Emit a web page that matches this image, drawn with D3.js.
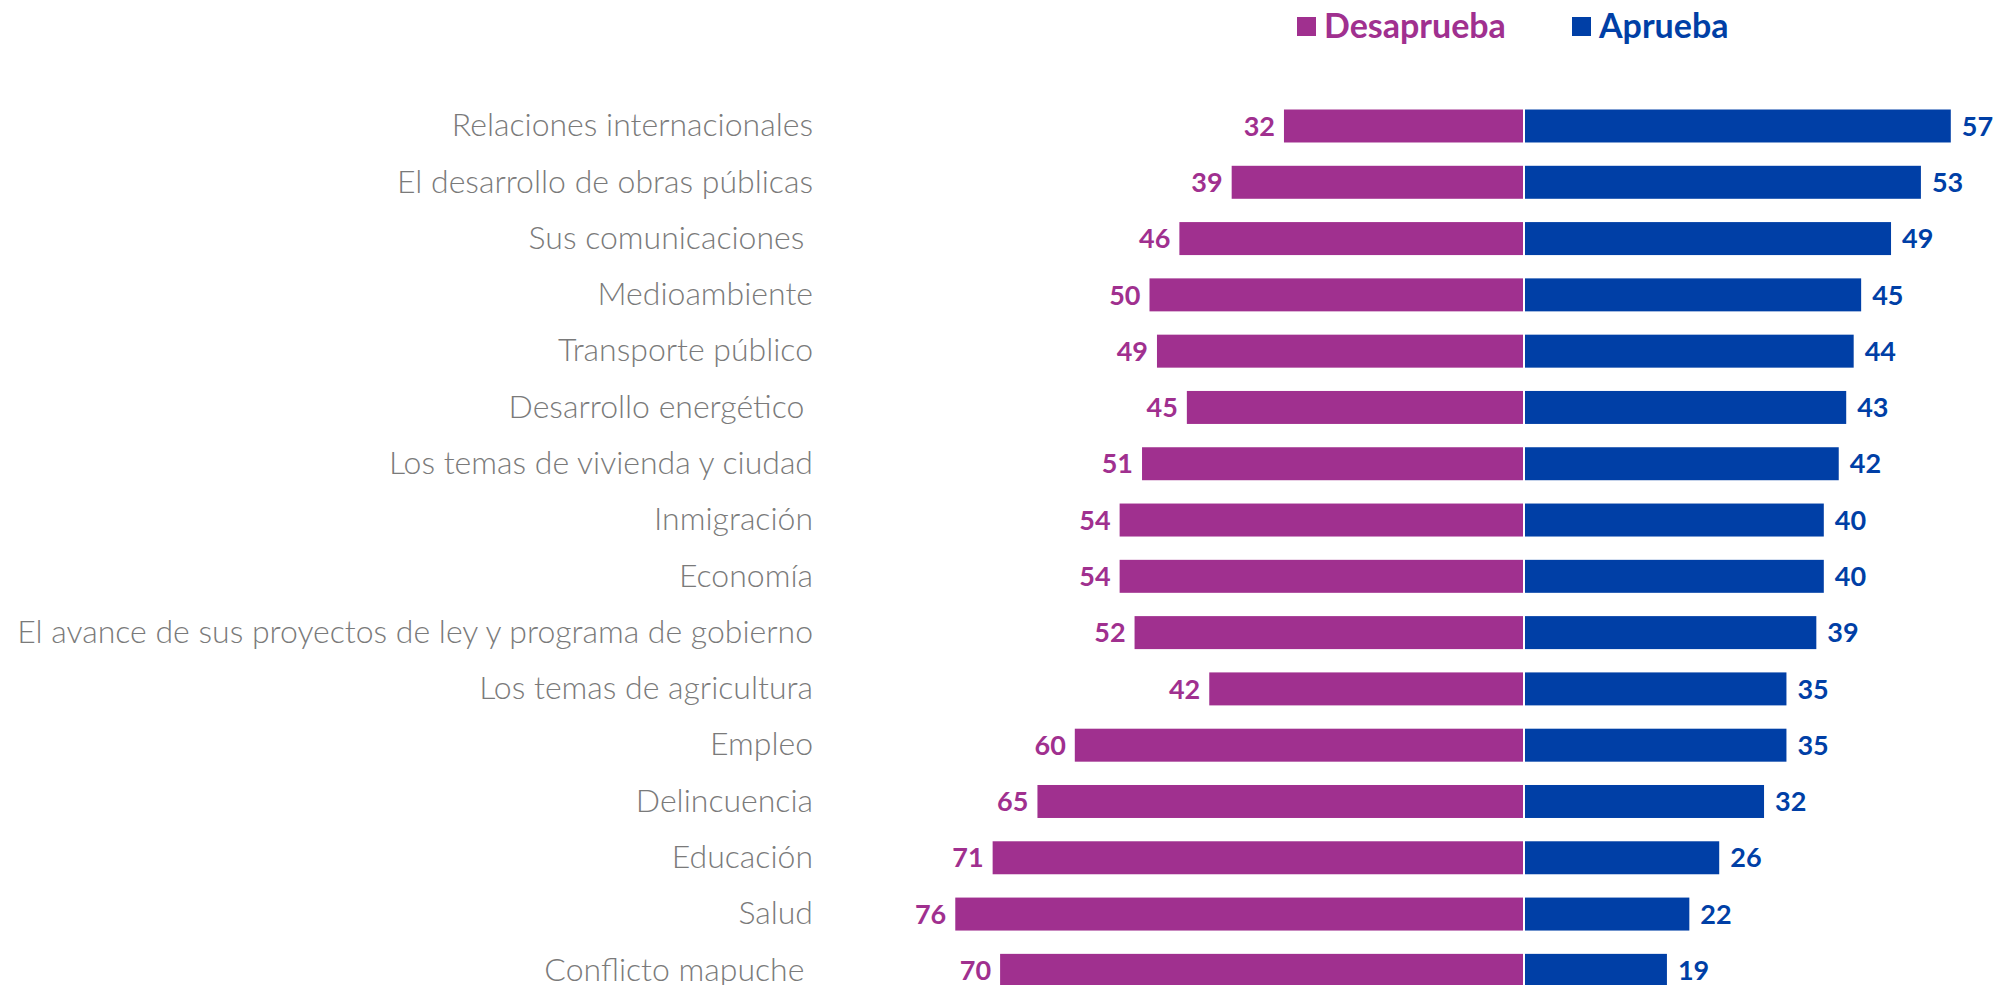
<!DOCTYPE html>
<html>
<head>
<meta charset="utf-8">
<script src="https://cdn.jsdelivr.net/npm/d3@7"></script>
<style>
  body { margin: 0; background: #fff; }
  svg { display: block; }
</style>
</head>
<body>
<svg id="chart"></svg>
<script>
const categories = [
  "Relaciones internacionales",
  "El desarrollo de obras públicas",
  "Sus comunicaciones ",
  "Medioambiente",
  "Transporte público",
  "Desarrollo energético ",
  "Los temas de vivienda y ciudad",
  "Inmigración",
  "Economía",
  "El avance de sus proyectos de ley y programa de gobierno",
  "Los temas de agricultura",
  "Empleo",
  "Delincuencia",
  "Educación",
  "Salud",
  "Conflicto mapuche "
];
const desaprueba = [32, 39, 46, 50, 49, 45, 51, 54, 54, 52, 42, 60, 65, 71, 76, 70];
const aprueba = [57, 53, 49, 45, 44, 43, 42, 40, 40, 39, 35, 35, 32, 26, 22, 19];
const seriesNames = ["Desaprueba", "Aprueba"];

const colors = { Desaprueba: "#a0308f", Aprueba: "#003fa6" };

const W = 1998, H = 985;
const svg = d3.select("#chart").attr("width", W).attr("height", H);

const center = 1524; // bars meet here
const x = d3.scaleLinear().domain([0, 80]).range([0, 597.6]);

const y = d3.scaleBand()
  .domain(categories)
  .range([97.85, 998.5])
  .paddingInner(0.414)
  .paddingOuter(0.207);

const rows = categories.map((c, i) => ({ cat: c, d: desaprueba[i], a: aprueba[i] }));

// category labels
const labels = svg.append("g")
  .selectAll("text")
  .data(rows)
  .enter()
  .append("text")
  .attr("x", 813)
  .attr("y", d => y(d.cat) + y.bandwidth() / 2)
  .attr("dy", "0.32em")
  .attr("text-anchor", "end")
  .style("font-family", "Lato, sans-serif")
  .style("font-weight", 300)
  .style("font-size", "30px")
  .style("fill", "#7a7a7a")
  .style("white-space", "pre")
  .text(d => d.cat);

// fit font so the longest label spans its width in the reference
let longest = 0;
labels.each(function () { longest = Math.max(longest, this.getComputedTextLength()); });
labels.style("font-size", (30 * 796 / longest) + "px");

const g = svg.append("g");

g.selectAll(".bar-d")
  .data(rows)
  .enter()
  .append("rect")
  .attr("class", "bar-d")
  .attr("x", d => center - 1 - x(d.d))
  .attr("y", d => y(d.cat))
  .attr("width", d => x(d.d))
  .attr("height", y.bandwidth())
  .style("fill", colors.Desaprueba);

g.selectAll(".bar-a")
  .data(rows)
  .enter()
  .append("rect")
  .attr("class", "bar-a")
  .attr("x", center + 1)
  .attr("y", d => y(d.cat))
  .attr("width", d => x(d.a))
  .attr("height", y.bandwidth())
  .style("fill", colors.Aprueba);

g.selectAll(".lab-d")
  .data(rows)
  .enter()
  .append("text")
  .attr("class", "lab-d")
  .attr("x", d => center - 1 - x(d.d) - 9)
  .attr("y", d => y(d.cat) + y.bandwidth() / 2)
  .attr("dy", "0.36em")
  .attr("text-anchor", "end")
  .style("font-family", "Lato, sans-serif")
  .style("font-weight", "bold")
  .style("font-size", "27px")
  .style("fill", colors.Desaprueba)
  .text(d => d.d);

g.selectAll(".lab-a")
  .data(rows)
  .enter()
  .append("text")
  .attr("class", "lab-a")
  .attr("x", d => center + 1 + x(d.a) + 11)
  .attr("y", d => y(d.cat) + y.bandwidth() / 2)
  .attr("dy", "0.36em")
  .style("font-family", "Lato, sans-serif")
  .style("font-weight", "bold")
  .style("font-size", "27px")
  .style("fill", colors.Aprueba)
  .text(d => d.a);

// legend
const legendX = [1297, 1572];
const legend = svg.append("g")
  .selectAll("g")
  .data(seriesNames)
  .enter()
  .append("g")
  .attr("transform", (d, i) => `translate(${legendX[i]}, 0)`);

legend.append("rect")
  .attr("x", 0)
  .attr("y", 17)
  .attr("width", 19)
  .attr("height", 19)
  .style("fill", d => colors[d]);

legend.append("text")
  .attr("x", 27)
  .attr("y", 38)
  .style("font-family", "Lato, sans-serif")
  .style("font-weight", "bold")
  .style("font-size", "34px")
  .style("fill", d => colors[d])
  .text(d => d);
</script>
</body>
</html>
